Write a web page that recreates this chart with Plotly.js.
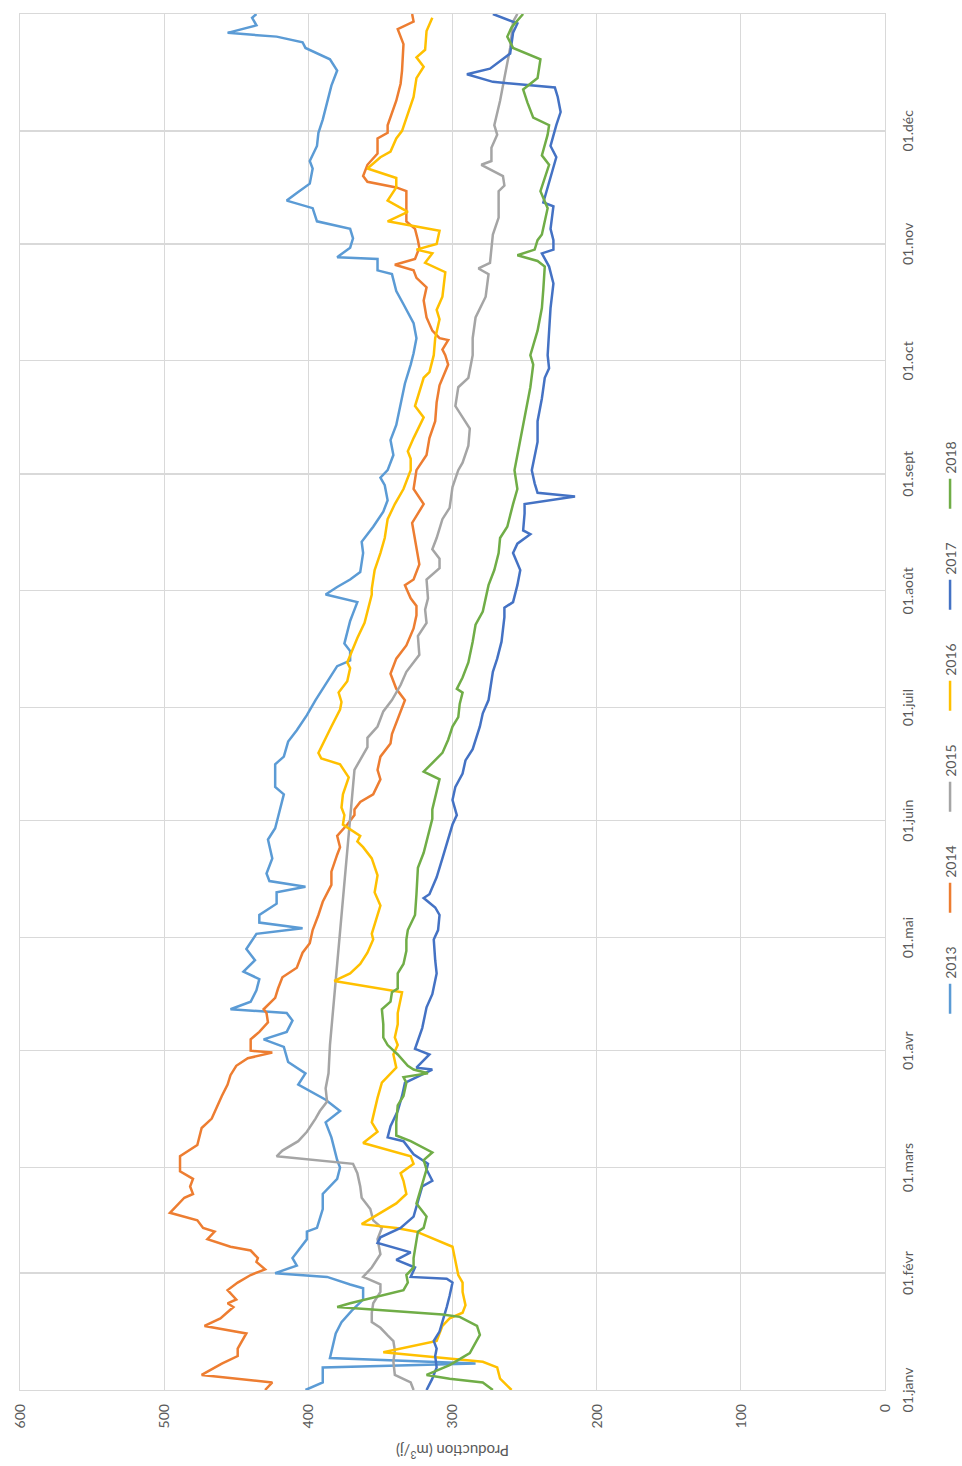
<!DOCTYPE html>
<html>
<head>
<meta charset="utf-8">
<script src="https://cdn.plot.ly/plotly-3.0.1.min.js"></script>
<style>
  html, body { margin: 0; padding: 0; background: #ffffff; }
  #frame { position: relative; width: 962px; height: 1466px; overflow: hidden; background: #fff; }
  #chart { position: absolute; left: 0; top: 0; width: 1466px; height: 962px;
           transform-origin: 0 0; transform: translate(0px, 1466px) rotate(-90deg); }
</style>
</head>
<body>
<div id="frame"><div id="chart"></div></div>
<script>
// Day of year (0 = 1 January) and daily production (m3/j)
const monthTickDays = [0, 31, 59, 90, 120, 151, 181, 212, 243, 273, 304, 334];
const monthTickLabels = ['01.janv', '01.févr', '01.mars', '01.avr', '01.mai', '01.juin',
                         '01.juil', '01.août', '01.sept', '01.oct', '01.nov', '01.déc'];
const seriesNames = ['2013', '2014', '2015', '2016', '2017', '2018'];

const days2013 = [0,2,6,7,8.5,15,18,21,24,27,28,30,31,33,35,40,42,43,48,52,56,59,61,67,71,74,77,81,84,87,91,93,95,98,100,101,103,106,109,111,114,117,121,122.5,124,126,129,132,133.5,135,137,141,146,149,152,158,160,166,168,172,175,179,183,189,192,193.5,196,198,204,206,209,211,213,215,217,222,225,229,233,236,240,242,244,248,252,256,263,267,272,275,279,283,288,291.5,296,297,300,300.5,303,305.5,308,310,313.5,315.5,317.5,320,324,326,330,333.5,337,340,346,350,353,356,357.5,359,360,362,364,365];
const prod2013 = [402,390,390,284,385,381,377,370,362,362,371,387,423,408,411,401,401,394,390,390,380,378,380,384,388,378,388,407,402,414,417,431,415,411,415,454,440,436,434,445,437,443,436,404,434,434,422,422,402,427,429,425,428,423,421,417,423,423,417,414,408,401,395,385,380,371,371,375,371,369,366,388,380,371,364,362,363,355,348,345,347,350,345,341,343,339,335,333,329,327,325,327,334,339,342,352,352,380,371,369,371,394,397,415,408,399,397,399,394,393,390,388,384,380,385,402,404,422,456,436,439,436];

const days2014 = [0,2,4,7,9,11,15,17,19,22,23,24,26.5,28.5,30.5,32,34,35,37,38,40,42,43,45,47,51,52,54,56,58,61,62,65,68,69.5,72,75.5,78,81,83.5,86,88,89.5,90,93,95,97.5,100,101,104,106.5,109.5,112,116,118.5,122,126,129.5,134,137.5,142,144,147,150,152.5,154,156,158,162,164.5,168,171.5,174,180,183,186,190,194,197.5,202,205.5,208,210,213.5,215,219,223.5,230,235,239,244,248,252.5,257,262,266.5,272,274.5,276,278.5,279,281,284.5,289,292.5,295,297,298.5,300,303,305,308,310,318,319,320.5,322,325,328,332,333.5,335.5,342,346.5,350,357,361,363,365];
const prod2014 = [430,425,474,460,449,449,443,472,461,452,456,450,456,449,440,430,436,435,440,454,470,465,473,477,496,486,480,482,480,489,489,489,477,475,474,467,463,460,456,454,450,442,425,440,440,434,428,429,431,423,421,418,408,404,399,397,393,390,384,384,380,378,380,373,368,368,364,355,350,352,350,343,342,336,333,339,343,339,332,327,325,325,329,333,327,323,325,328,320,327,325,318,316,312,311,309,303,305,307,303,309,314,318,320,318,325,327,340,326,323,324,326,332,332,339,359,362,359,352,352,345,345,339,336,335,334,338,327,328];

const days2015 = [0,2,4,7.5,10.5,13,14.5,16.5,18,20.5,23,26,28,30,32.5,36,40,43,45,48,51,54,57.5,60,62,63.5,66,68.5,72,74,76.5,80,84,91.5,164.5,167,170.5,173,176,180,183,187,190.5,195,200,203.5,207,210,213.5,215,218,220.5,223,226,231,234,239.5,244,246,250.5,255,258,261,266,268.5,274.5,279,284.5,290,296,297.5,299,305,306.5,311,318,319.5,322,325,326,329.5,333,335.5,342,348,356,363,365];
const prod2015 = [327,329,340,341,340,341,345,350,356,356,355,350,350,362,356,350,352,349,355,357,363,364,366,369,422,418,407,401,395,392,387,388,386,385,368,364,359,359,352,348,342,336,332,323,324,318,319,317,318,318,309,309,314,311,307,302,300,296,293,289,288,293,298,296,289,286,286,284,277,275,282,274,272,272,268,268,264,265,280,273,273,269,271,267,264,260,258,255];

const days2016 = [0,3,6,7.5,10,11.5,13,17,19,20.5,22.5,26,28.5,30.5,32.5,38,42,43,44,47,49.5,52,55.5,57.5,60,62,65.5,68.5,71,77.5,81.5,85.5,89,91.5,93.5,97,100,105.5,108.5,110.5,113,116,119.5,121,128.5,132,136.5,141,144,145.5,147,150,152.5,154.5,158,162.5,166,167.5,169,176,180.5,182.5,185,188,191.5,193,196,199.5,203.5,211,212.5,217.5,222,226,231,235,239,244,247,249,252.5,258,261,268.5,270,274.5,279,284,286.5,290,296.5,299,301.5,302.5,304,307.5,310,312.5,315.5,319,321.5,324,327,328.5,332,334,343,348,351,353.5,355.5,360.5,364];
const prod2016 = [259,267,269,279,348,329,311,307,302,293,291,293,293,296,297,300,325,339,363,350,339,332,334,336,327,329,362,352,356,352,349,339,341,338,340,338,338,335,382,371,364,359,355,356,350,354,352,356,362,366,364,376,375,377,376,372,378,391,393,384,378,377,379,373,371,373,370,366,361,356,356,354,350,347,345,340,334,329,329,331,327,320,326,320,316,313,312,309,311,307,305,319,314,325,311,309,345,331,345,339,339,359,350,343,339,335,327,325,320,325,319,318,314];

const days2017 = [0,3,6,9,11,13,15.5,18,22,25,28.5,29.5,30,32.5,34.5,36.5,39,40.5,43,46,50,54,55.5,58.5,60,62.5,66,67,70,74,78,81.5,85,85.5,89,90.5,96,101.5,105,110.5,114,119.5,122,126,128,130.5,131.5,136,141,147,150,152.5,156.5,160,163.5,167,170,176,179.5,183,190.5,194,198.5,205,207.5,209,213.5,217.5,222,224.5,227,228,232.5,235,237,238,240.5,244,251.5,257,263,268.5,271,274.5,281,287,293.5,298,301.5,302.5,305,308,314,315,327,330,335.5,339,343,345.5,347,349,350.5,354.5,360,362.5,365];
const prod2017 = [318,314,311,312,311,313,309,307,304,302,300,304,329,326,339,329,352,350,336,327,324,321,314,318,317,327,334,345,343,338,335,333,314,325,316,326,321,318,314,311,312,313,310,309,312,320,316,311,307,302,300,297,300,298,293,291,286,281,279,275,272,269,266,264,264,258,255,253,258,255,246,251,250,250,215,241,243,245,241,241,238,236,233,234,233,232,230,233,238,230,230,232,230,237,228,232,228,225,227,229,272,290,274,260,258,255,272];

const days2018 = [0,2,3,4,6.6,9.8,14.6,17,19.4,20,22,23,26.5,28.5,30.5,32.5,35,39,42,43,46,49.5,52,55.5,58.5,61,63,66,67.5,71,75.5,78,81.5,83,84,85,86,89,91.5,93.5,97,101,103,105.5,106.5,110.5,113,116.5,119.5,122,126,131.5,138.5,142.5,147,151.5,154,159,162,164,169,172.5,176,178.5,182,185,186,189,193,198.5,203,206.5,210,213.5,217.5,222,226,229,235,239,244,248,255,261,266,272,274.5,281,287,292,298,299.5,301,302.5,305,306.5,313.5,318,325,327.5,333,335.5,337.5,341.5,345,348,353,356,359,361.5,365];
const prod2018 = [272,279,302,318,302,288,281,283,295,307,380,371,334,331,332,327,327,325,324,320,318,325,323,320,318,320,314,329,339,339,338,334,332,334,317,327,331,338,345,348,348,349,343,342,338,338,334,332,332,331,326,325,324,320,317,314,314,311,309,320,307,303,300,296,295,293,297,293,289,286,284,279,277,275,271,268,267,262,258,255,257,255,251,248,246,244,246,241,238,237,236,241,255,243,241,238,234,239,233,238,234,233,244,248,251,241,239,258,262,259,251];

const allDays = [days2013, days2014, days2015, days2016, days2017, days2018];
const allProd = [prod2013, prod2014, prod2015, prod2016, prod2017, prod2018];
const lineColors = ['#5B9BD5', '#ED7D31', '#A5A5A5', '#FFC000', '#4472C4', '#70AD47'];

const traces = seriesNames.map((name, i) => ({
  type: 'scatter', mode: 'lines', name: name,
  x: allDays[i], y: allProd[i],
  line: { color: lineColors[i], width: 2.5 },
  hoverinfo: 'x+y+name'
}));

const fontFam = 'Lato, "Open Sans", "Liberation Sans", sans-serif';
const layout = {
  width: 1466, height: 962,
  margin: { l: 76, r: 14, t: 20, b: 77, autoexpand: false },
  paper_bgcolor: '#ffffff', plot_bgcolor: '#ffffff',
  font: { family: fontFam, size: 14, color: '#595959' },
  showlegend: true,
  legend: {
    orientation: 'h', x: 0.49, xanchor: 'center',
    yref: 'container', y: 0.012, yanchor: 'middle',
    font: { family: fontFam, size: 14, color: '#595959' },
    entrywidth: 56, entrywidthmode: 'pixels', itemwidth: 30,
    bgcolor: 'rgba(0,0,0,0)'
  },
  xaxis: {
    type: 'linear', range: [0, 365], tickmode: 'array',
    tickvals: monthTickDays, ticktext: monthTickLabels,
    showgrid: true, gridcolor: '#d9d9d9', gridwidth: 1.3,
    zeroline: false, showline: true, mirror: true, linecolor: '#d9d9d9', linewidth: 1.3,
    ticks: '', ticklabelstandoff: 10, automargin: false,
    tickfont: { family: fontFam, size: 14, color: '#595959' }
  },
  yaxis: {
    range: [0, 600], dtick: 100, tick0: 0,
    showgrid: true, gridcolor: '#d9d9d9', gridwidth: 1.3,
    zeroline: false, showline: true, mirror: true, linecolor: '#d9d9d9', linewidth: 1.3,
    ticks: '', ticklabelstandoff: 10, automargin: false,
    tickfont: { family: fontFam, size: 14, color: '#595959' },
    title: { text: 'Production (m<sup>3</sup>/j)', standoff: 12,
             font: { family: fontFam, size: 15, color: '#595959' } }
  }
};

Plotly.newPlot('chart', traces, layout, { displayModeBar: false, staticPlot: true, responsive: false });
</script>
</body>
</html>
